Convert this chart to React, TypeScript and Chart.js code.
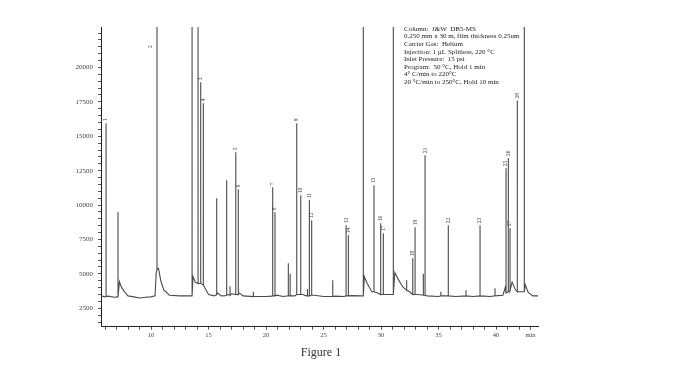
import React, { useEffect, useRef } from "react";
import { Chart, registerables } from "chart.js";
Chart.register(...registerables);

// Baseline of the trace (retention time in min, abundance)
const baseTimes = [5.65, 6.0, 6.3, 6.8, 7.05, 7.25, 7.45, 7.65, 8.0, 8.5, 9.0, 9.5, 10.0, 10.35, 10.45, 10.65, 10.85, 11.1, 11.6, 12.5, 13.5, 13.65, 13.85, 14.7, 15.0, 15.5, 15.8, 16.1, 16.5, 16.7, 17.0, 17.7, 18.0, 19.0, 20.0, 20.5, 20.9, 21.5, 22.5, 23.2, 23.5, 24.2, 25.0, 26.0, 26.8, 27.4, 28.3, 28.55, 28.8, 29.2, 29.6, 30.4, 30.9, 31.2, 31.5, 31.9, 32.4, 33.2, 34.0, 35.0, 36.5, 38.0, 39.5, 40.6, 40.8, 41.4, 41.65, 42.1, 42.55, 42.8, 43.2, 43.65];
const baseValues = [3400, 3330, 3380, 3300, 3330, 4430, 4000, 3750, 3400, 3330, 3250, 3300, 3330, 3400, 5100, 5400, 4500, 3850, 3450, 3400, 3400, 4800, 4400, 3950, 3500, 3400, 3600, 3400, 3420, 3500, 3550, 3600, 3400, 3350, 3350, 3380, 3450, 3350, 3400, 3500, 3400, 3450, 3350, 3380, 3350, 3420, 3400, 4800, 4300, 3700, 3650, 3500, 3500, 5100, 4600, 4050, 3750, 3500, 3400, 3350, 3350, 3350, 3350, 3450, 4000, 4400, 3900, 3700, 4200, 3650, 3400, 3400];

// Peaks: apex time, apex abundance, foot abundance, label
const peakTimes = [6.09, 7.13, 10.52, 13.57, 14.09, 14.32, 14.55, 15.71, 16.58, 16.87, 17.37, 17.59, 18.9, 20.58, 20.78, 21.94, 22.1, 22.67, 23.02, 23.6, 23.77, 23.97, 25.8, 26.96, 27.16, 28.46, 29.39, 29.97, 30.2, 31.07, 32.23, 32.76, 32.96, 33.68, 33.83, 35.2, 35.85, 37.39, 38.61, 39.91, 40.87, 41.07, 41.22, 41.85, 42.46];
const peakHeights = [15950, 9480, 40000, 40000, 40000, 18920, 17400, 10490, 11800, 4100, 13840, 11150, 3700, 11300, 9480, 5770, 5000, 15945, 10710, 3900, 10350, 8900, 4530, 8530, 7800, 40000, 11440, 8680, 7950, 40000, 4530, 6130, 8390, 5000, 13620, 3700, 8530, 3800, 8530, 3950, 12675, 13420, 8310, 17600, 40000];
const peakFeet = [3350, 3330, 5300, 3400, 4300, 4300, 4200, 3500, 3450, 3450, 3500, 3500, 3350, 3400, 3400, 3400, 3400, 3500, 3500, 3400, 3400, 3450, 3350, 3400, 3400, 3400, 3700, 3500, 3500, 3500, 3800, 3500, 3500, 3450, 3450, 3400, 3400, 3400, 3400, 3400, 3600, 3700, 3800, 3700, 3700];
const peakLabels = ["1", "", "2", "", "", "3", "4", "", "", "", "5", "6", "", "7", "8", "", "", "9", "10", "", "11", "12", "", "13", "14", "", "15", "16", "17", "", "", "18", "19", "", "21", "", "22", "", "23", "", "25", "26", "27", "28", ""];

const xMin = 5.65;
const xMax = 43.65;
const yMin = 1160;
const yMax = 22940;
const xTickValues = [6, 7, 8, 9, 10, 11, 12, 13, 14, 15, 16, 17, 18, 19, 20, 21, 22, 23, 24, 25, 26, 27, 28, 29, 30, 31, 32, 33, 34, 35, 36, 37, 38, 39, 40, 41, 42, 43];
const xTickLabels = [10, 15, 20, 25, 30, 35, 40];
const xUnitTick = 43;
const xUnitLabel = "min";
const yTickValues = [1500, 2000, 2500, 3000, 3500, 4000, 4500, 5000, 5500, 6000, 6500, 7000, 7500, 8000, 8500, 9000, 9500, 10000, 10500, 11000, 11500, 12000, 12500, 13000, 13500, 14000, 14500, 15000, 15500, 16000, 16500, 17000, 17500, 18000, 18500, 19000, 19500, 20000, 20500, 21000, 21500, 22000, 22500];
const yTickLabels = [2500, 5000, 7500, 10000, 12500, 15000, 17500, 20000];

const methodLines = [
  "Column:  J&W  DB5-MS",
  "0.250 mm x 30 m, film thickness 0.25um",
  "Carrier Gas:  Helium",
  "Injection: 1 µL Splitless, 220 °C",
  "Inlet Pressure:  15 psi",
  "Program:  50 °C, Hold 1 min",
  "4° C/min to 220°C",
  "20 °C/min to 250°C, Hold 10 min",
];
const caption = "Figure 1";

const SERIF = "'Liberation Serif', 'DejaVu Serif', serif";

function buildTrace() {
  const pts: { x: number; y: number; k: number }[] = [];
  let k = 0;
  baseTimes.forEach((t, i) => pts.push({ x: t, y: baseValues[i], k: k++ }));
  peakTimes.forEach((t, i) => {
    pts.push({ x: t, y: peakFeet[i], k: k++ });
    pts.push({ x: t, y: peakHeights[i], k: k++ });
    pts.push({ x: t, y: peakFeet[i], k: k++ });
  });
  pts.sort((a, b) => (a.x - b.x) || (a.k - b.k));
  return pts.map((p) => ({ x: p.x, y: p.y }));
}

const annotationPlugin = {
  id: "annotations",
  afterDatasetsDraw(chart: any) {
    const { ctx, chartArea, scales } = chart;
    const xs = scales.x;
    const ys = scales.y;
    ctx.save();
    ctx.fillStyle = "#3a3a3a";
    ctx.font = `5.5px ${SERIF}`;
    peakTimes.forEach((t, i) => {
      const lab = peakLabels[i];
      if (!lab) return;
      let px = xs.getPixelForValue(t);
      let py = ys.getPixelForValue(peakHeights[i]) - 2;
      if (peakHeights[i] > yMax) {
        px -= 6;
        py = chartArea.top + 21;
      }
      ctx.save();
      ctx.translate(px, py);
      ctx.rotate(-Math.PI / 2);
      ctx.textAlign = "left";
      ctx.textBaseline = "middle";
      ctx.fillText(lab, 0, 0);
      ctx.restore();
    });
    ctx.fillStyle = "#222";
    ctx.font = `7px ${SERIF}`;
    ctx.textAlign = "left";
    ctx.textBaseline = "middle";
    methodLines.forEach((l, i) => ctx.fillText(l, chartArea.left + 303, chartArea.top + 2 + i * 7.6));
    ctx.font = `12px ${SERIF}`;
    ctx.textAlign = "center";
    ctx.fillStyle = "#333";
    ctx.fillText(caption, 321, 353);
    ctx.restore();
  },
};

export default function App() {
  const ref = useRef<HTMLCanvasElement | null>(null);
  useEffect(() => {
    if (!ref.current) return;
    const chart = new Chart(ref.current, {
      type: "line",
      data: {
        datasets: [
          {
            data: buildTrace(),
            borderColor: "#4a4a4a",
            borderWidth: 1.1,
            pointRadius: 0,
            tension: 0,
            fill: false,
          },
        ],
      },
      options: {
        responsive: false,
        animation: false,
        devicePixelRatio: 1,
        layout: { padding: { left: 0, top: 27, right: 158, bottom: 38.3 } },
        plugins: { legend: { display: false }, tooltip: { enabled: false } },
        scales: {
          x: {
            type: "linear",
            min: xMin,
            max: xMax,
            afterBuildTicks: (s: any) => { s.ticks = xTickValues.map((v) => ({ value: v })); },
            afterFit: (s: any) => { s.height = 20; },
            border: { display: true, color: "#222", width: 1 },
            grid: { display: true, drawOnChartArea: false, drawTicks: true, tickLength: 3, color: "#555" },
            ticks: {
              autoSkip: false,
              maxRotation: 0,
              padding: 2,
              color: "#444",
              font: { family: SERIF, size: 6.5 },
              callback: (v: any) => {
                const n = Number(v);
                if (xTickLabels.includes(n)) return String(n);
                if (n === xUnitTick) return xUnitLabel;
                return "";
              },
            },
          },
          y: {
            type: "linear",
            min: yMin,
            max: yMax,
            afterBuildTicks: (s: any) => { s.ticks = yTickValues.map((v) => ({ value: v })); },
            afterFit: (s: any) => { s.width = 101; },
            border: { display: true, color: "#222", width: 1 },
            grid: { display: true, drawOnChartArea: false, drawTicks: true, tickLength: 3, color: "#555" },
            ticks: {
              autoSkip: false,
              padding: 5,
              color: "#444",
              font: { family: SERIF, size: 7 },
              callback: (v: any) => {
                const n = Number(v);
                return yTickLabels.includes(n) ? String(n) : "";
              },
            },
          },
        },
      },
      plugins: [annotationPlugin],
    });
    return () => chart.destroy();
  }, []);
  return (
    <div style={{ position: "absolute", left: 0, top: 0, width: 696, height: 385, background: "#fff" }}>
      <canvas ref={ref} width={696} height={385} style={{ display: "block" }} />
    </div>
  );
}
